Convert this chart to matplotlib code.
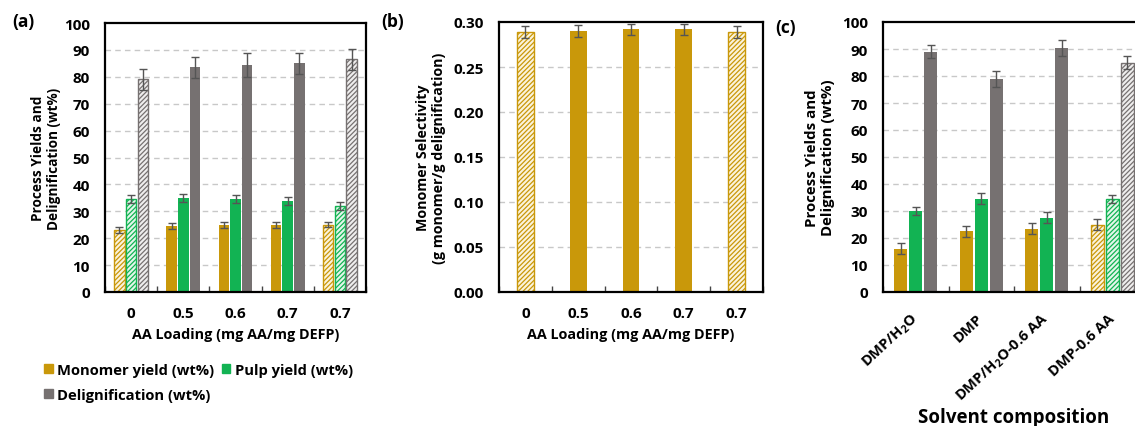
import matplotlib
matplotlib.use("Agg")
import matplotlib.pyplot as plt
import numpy as np
from matplotlib.patches import Patch

plt.rcParams['font.family'] = ['Open Sans', 'DejaVu Sans']
plt.rcParams['font.weight'] = 'bold'
plt.rcParams['mathtext.fontset'] = 'custom'
plt.rcParams['mathtext.rm'] = 'Open Sans:bold'
plt.rcParams['mathtext.bf'] = 'Open Sans:bold'
plt.rcParams['mathtext.it'] = 'Open Sans:bold'
plt.rcParams['hatch.linewidth'] = 0.9

# ---------------- data ----------------
a_cats = ["0", "0.5", "0.6", "0.7", "0.7"]
a_monomer = [23.0, 24.5, 25.0, 25.0, 25.0]
a_monomer_err = [1.0, 1.0, 1.2, 1.2, 1.0]
a_pulp = [34.5, 35.0, 34.5, 34.0, 32.0]
a_pulp_err = [1.5, 1.5, 1.5, 1.5, 1.5]
a_delig = [79.0, 83.5, 84.5, 85.0, 86.5]
a_delig_err = [4.0, 4.0, 4.5, 4.0, 4.0]
a_hatched = [True, False, False, False, True]

b_cats = ["0", "0.5", "0.6", "0.7", "0.7"]
b_select = [0.289, 0.290, 0.292, 0.292, 0.289]
b_select_err = [0.007, 0.007, 0.006, 0.006, 0.007]
b_hatched = [True, False, False, False, True]

c_cats = ["DMP/H$_2$O", "DMP", "DMP/H$_2$O-0.6 AA", "DMP-0.6 AA"]
c_monomer = [16.0, 22.5, 23.5, 25.0]
c_monomer_err = [2.0, 2.0, 2.0, 2.0]
c_pulp = [30.0, 34.5, 27.5, 34.5]
c_pulp_err = [1.5, 2.0, 2.0, 1.5]
c_delig = [89.0, 79.0, 90.5, 85.0]
c_delig_err = [2.5, 3.0, 3.0, 2.5]
c_hatched = [False, False, False, True]

series_names = ["Monomer yield (wt%)", "Pulp yield (wt%)", "Delignification (wt%)"]
GOLD = "#C9980A"
GREEN = "#12B353"
GRAY = "#767171"
colors = [GOLD, GREEN, GRAY]
PALE = {GOLD: "#FBF3DC", GREEN: "#E3F6EA", GRAY: "#EFEEEE"}

W, H = 1135, 427
fig = plt.figure(figsize=(W / 100, H / 100), dpi=100)

TICK_FS = 11


def ax_at(l, t, r, b):
    return fig.add_axes([l / W, 1 - b / H, (r - l) / W, (b - t) / H])


def style_axes(ax, ymax, step, ncat, fmt):
    ax.set_ylim(0, ymax)
    ax.set_xlim(-0.5, ncat - 0.5)
    yt = np.arange(0, ymax + step / 2, step)
    ax.set_yticks(yt)
    ax.set_yticklabels([fmt(v) for v in yt])
    for v in yt[1:-1]:
        ax.axhline(v, color="#C8C8C8", lw=1.0, ls=(0, (4, 3)), zorder=0)
    for s in ax.spines.values():
        s.set_linewidth(1.6)
        s.set_color("black")
    ax.tick_params(axis="y", length=0, labelsize=TICK_FS, pad=11)
    ax.set_xticks(np.arange(-0.5, ncat - 0.5 + 0.01, 1.0), minor=True)
    ax.tick_params(axis="x", which="minor", direction="in", length=4, width=1, color="#444444")
    ax.tick_params(axis="x", which="major", length=0, labelsize=TICK_FS, pad=10)
    for lab in ax.get_yticklabels():
        lab.set_fontweight("bold")


def draw_bar(ax, x, h, err, color, width, hatched):
    if hatched:
        ax.bar(x, h, width, facecolor=PALE[color], edgecolor=color, hatch="///////", lw=1.0, zorder=2)
    else:
        ax.bar(x, h, width, color=color, zorder=2)
    ax.errorbar(x, h, yerr=err, fmt="none", ecolor="#555555", elinewidth=1.0, capsize=3, capthick=1.0, zorder=3)


# ---------------- panel (a) ----------------
axa = ax_at(105, 24, 366, 293)
style_axes(axa, 100, 10, 5, lambda v: f"{v:.0f}")
bw = 0.2
sp = 0.225
for i in range(len(a_cats)):
    for k, (vals, errs) in enumerate([(a_monomer, a_monomer_err), (a_pulp, a_pulp_err), (a_delig, a_delig_err)]):
        draw_bar(axa, i + (k - 1) * sp, vals[i], errs[i], colors[k], bw, a_hatched[i])
axa.set_xticks(range(len(a_cats)))
axa.set_xticklabels(a_cats, fontweight="bold")
axa.set_xlabel("AA Loading (mg AA/mg DEFP)", fontsize=10.4, fontweight="bold", labelpad=5)
axa.set_ylabel("Process Yields and\nDelignification (wt%)", fontsize=9.8, fontweight="bold", labelpad=2)
fig.text(12 / W, 1 - 22 / H, "(a)", fontsize=12.5, fontweight="bold", va="center")

handles = [Patch(facecolor=c, edgecolor=c) for c in colors]
order = [0, 2, 1]
fig.legend([handles[j] for j in order], [series_names[j] for j in order],
           loc="upper left", bbox_to_anchor=(38 / W, 1 - 358 / H),
           ncol=2, frameon=False, fontsize=10.6, handlelength=0.6, handleheight=0.6,
           handletextpad=0.3, columnspacing=0.5, labelspacing=0.75, borderaxespad=0)

# ---------------- panel (b) ----------------
axb = ax_at(499, 23, 763, 293)
style_axes(axb, 0.30, 0.05, 5, lambda v: f"{v:.2f}")
for i in range(len(b_cats)):
    draw_bar(axb, i, b_select[i], b_select_err[i], GOLD, 0.32, b_hatched[i])
axb.set_xticks(range(len(b_cats)))
axb.set_xticklabels(b_cats, fontweight="bold")
axb.set_xlabel("AA Loading (mg AA/mg DEFP)", fontsize=10.4, fontweight="bold", labelpad=5)
axb.set_ylabel("Monomer Selectivity\n(g monomer/g delignification)", fontsize=10.3, fontweight="bold", labelpad=5)
fig.text(381 / W, 1 - 22 / H, "(b)", fontsize=12.5, fontweight="bold", va="center")

# ---------------- panel (c) ----------------
axc = ax_at(883, 23, 1145, 293)
style_axes(axc, 100, 10, 4, lambda v: f"{v:.0f}")
for i in range(len(c_cats)):
    for k, (vals, errs) in enumerate([(c_monomer, c_monomer_err), (c_pulp, c_pulp_err), (c_delig, c_delig_err)]):
        draw_bar(axc, i + (k - 1) * 0.23, vals[i], errs[i], colors[k], 0.2, c_hatched[i])
axc.set_xticks(range(len(c_cats)))
axc.set_xticklabels(c_cats, rotation=43, ha="right", va="center", rotation_mode="anchor",
                    fontweight="bold", fontsize=10.5)
axc.tick_params(axis="x", which="major", pad=17)
axc.set_xlabel("Solvent composition", fontsize=13.5, fontweight="bold")
axc.xaxis.set_label_coords(0.5, -(418 - 293) / 270)
axc.xaxis.label.set_va("center")
axc.set_ylabel("Process Yields and\nDelignification (wt%)", fontsize=10.8, fontweight="bold", labelpad=5)
fig.text(775 / W, 1 - 28 / H, "(c)", fontsize=12.5, fontweight="bold", va="center")

fig.savefig("out.png", dpi=100)
